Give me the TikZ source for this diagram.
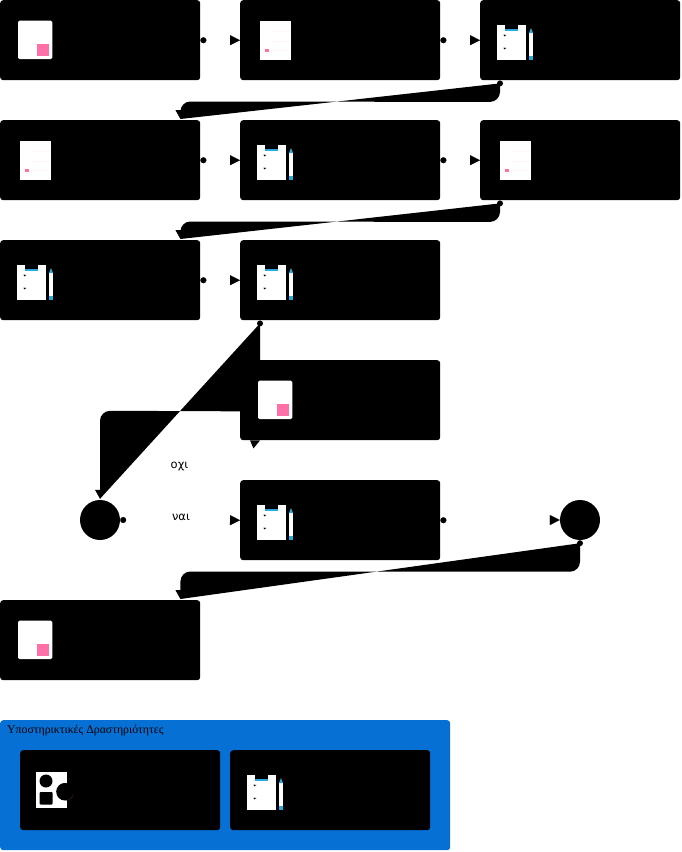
\documentclass[tikz,border=0pt]{standalone}
\usepackage{fontspec}
\setmainfont{Liberation Serif}
\newfontfamily\lblfont{DejaVu Sans}
\usetikzlibrary{arrows.meta,calc}
\definecolor{pinkfill}{HTML}{FF6FA8}
\definecolor{cyanfill}{HTML}{29A9DF}
\definecolor{poolblue}{HTML}{0670D5}
\tikzset{
  x=1pt,y=-1pt,
  taskbox/.style={fill=black,draw=none,rounded corners=3pt,minimum width=200pt,minimum height=80pt,inner sep=0pt,anchor=north west},
  gateway/.style={circle,fill=black,draw=none,minimum size=40pt,inner sep=0pt},
  flow/.style={draw=white,line width=0.1pt,{Circle[black,length=6pt,width=6pt]}-{Triangle[black,length=10pt,width=10pt]}},
  backflow/.style={fill=black,draw=none},
  tip/.style={fill=black,draw=none},
  edgelabel/.style={font=\lblfont\fontsize{11.5}{13}\selectfont,inner sep=0pt},
  docicon/.pic={
    \fill[white,rounded corners=1.5pt] (18,20.7) rectangle (52.4,59);
    \fill[pinkfill] (37.4,44) rectangle (49,56);
  },
  smalldoc/.pic={
    \fill[white] (19.5,20.5) rectangle (50.5,59.5);
    \draw[pinkfill!7,line width=0.5pt] (33,31) -- (50,31) (33,41) -- (50,41) (33,50) -- (50,50);
    \fill[pinkfill] (24.5,48.8) rectangle (29,52.4);
  },
  clipicon/.pic={
    \fill[white] (16.7,25) rectangle (46,59.5);
    \fill[black] (24.5,25) rectangle (38,30.5);
    \fill[cyanfill] (24.5,29.3) rectangle (38,30.7);
    \fill[black] (23.6,34.6) -- (26.4,35) -- (24.2,36.4) -- cycle;
    \fill[black] (23.6,47.6) -- (26.4,48) -- (24.2,49.4) -- cycle;
    \fill[white] (49,33) rectangle (53,56);
    \fill[cyanfill] (49,56) rectangle (53,59.5);
    \fill[cyanfill] (51,28) -- (53,33) -- (49,33) -- cycle;
  },
}
\begin{document}
\begin{tikzpicture}
\useasboundingbox (0,0) rectangle (682,852);
% pool
\node[fill=poolblue,draw=none,rounded corners=3pt,minimum width=450pt,minimum height=130pt,inner sep=0pt,anchor=north west] (pool) at (0,720) {};
\node[anchor=west,inner sep=0pt,font=\fontsize{11.8}{14}\selectfont,text=black] (poollabel) at (7,730.5) {Υποστηρικτικές Δραστηριότητες};
% tasks
\node[taskbox] (a1) at (0,0) {};
\node[taskbox] (a2) at (240,0) {};
\node[taskbox] (a3) at (480,0) {};
\node[taskbox] (b1) at (0,120) {};
\node[taskbox] (b2) at (240,120) {};
\node[taskbox] (b3) at (480,120) {};
\node[taskbox] (c1) at (0,240) {};
\node[taskbox] (c2) at (240,240) {};
\node[taskbox] (d2) at (240,360) {};
\node[taskbox] (e2) at (240,480) {};
\node[taskbox] (f1) at (0,600) {};
\node[taskbox] (s1) at (20,750) {};
\node[taskbox] (s2) at (230,750) {};
\node[gateway] (gw1) at (100,520) {};
\node[gateway] (gw2) at (580,520) {};
% forward flows
\draw[flow] (a1.east) -- (a2.west);
\draw[flow] (a2.east) -- (a3.west);
\draw[flow] (b1.east) -- (b2.west);
\draw[flow] (b2.east) -- (b3.west);
\draw[flow] (c1.east) -- (c2.west);
\draw[flow] (gw1.east) -- (e2.west);
\draw[flow] (e2.east) -- (gw2.west);
% return flows
\coordinate (r1s) at ($(a3.south west)+(20,3)$);
\coordinate (r1e) at ($(b1.north east)+(-20,-1)$);
\path[backflow] (r1s) -- ($(a3.south west)+(20,11.5)$) .. controls ($(a3.south west)+(20,17)$) and ($(a3.south west)+(15.5,21.5)$) .. ($(a3.south west)+(10,21.5)$)
  -- ($(b1.north east)+(-10,-18.5)$) .. controls ($(b1.north east)+(-15.5,-18.5)$) and ($(b1.north east)+(-20,-14)$) .. ($(b1.north east)+(-20,-8.5)$) -- (r1e) -- cycle;
\fill[tip] ($(b1.north east)+(-25,-10)$) -- (r1e) -- ($(b1.north east)+(-15,-10)$) -- cycle;
\fill[black] (r1s) circle[radius=3];

\coordinate (r2s) at ($(b3.south west)+(20,3)$);
\coordinate (r2e) at ($(c1.north east)+(-20,-1)$);
\path[backflow] (r2s) -- ($(b3.south west)+(20,11.5)$) .. controls ($(b3.south west)+(20,17)$) and ($(b3.south west)+(15.5,21.5)$) .. ($(b3.south west)+(10,21.5)$)
  -- ($(c1.north east)+(-10,-18.5)$) .. controls ($(c1.north east)+(-15.5,-18.5)$) and ($(c1.north east)+(-20,-14)$) .. ($(c1.north east)+(-20,-8.5)$) -- (r2e) -- cycle;
\fill[tip] ($(c1.north east)+(-25,-10)$) -- (r2e) -- ($(c1.north east)+(-15,-10)$) -- cycle;
\fill[black] (r2s) circle[radius=3];

\coordinate (r3s) at ($(c2.south west)+(20,3)$);
\coordinate (r3e) at ($(gw1.north)+(0,-1)$);
\path[backflow] (r3s) -- ($(c2.south west)+(20,91)$)
  -- ($(gw1.north)+(10,-89)$) .. controls ($(gw1.north)+(4.5,-89)$) and ($(gw1.north)+(0,-84.5)$) .. ($(gw1.north)+(0,-79)$) -- (r3e) -- cycle;
\fill[tip] ($(gw1.north)+(-5,-10)$) -- (r3e) -- ($(gw1.north)+(5,-10)$) -- cycle;
\fill[tip] ($(d2.south west)+(10,0)$) -- ($(d2.south west)+(13.5,8)$) -- ($(d2.south west)+(20,0)$) -- cycle;
\fill[black] (r3s) circle[radius=3];

\coordinate (r4s) at ($(gw2.south)+(0,3)$);
\coordinate (r4e) at ($(f1.north east)+(-20,-1)$);
\path[backflow] (r4s) -- ($(gw2.south)+(0,21.5)$) .. controls ($(gw2.south)+(0,27)$) and ($(gw2.south)+(-4.5,31.5)$) .. ($(gw2.south)+(-10,31.5)$)
  -- ($(f1.north east)+(-10,-28.5)$) .. controls ($(f1.north east)+(-15.5,-28.5)$) and ($(f1.north east)+(-20,-24)$) .. ($(f1.north east)+(-20,-18.5)$) -- (r4e) -- cycle;
\fill[tip] ($(f1.north east)+(-25,-10)$) -- (r4e) -- ($(f1.north east)+(-15,-10)$) -- cycle;
\fill[black] (r4s) circle[radius=3];
% icons
\pic at (0,0) {docicon};
\pic at (240,0) {smalldoc};
\pic at (480,0) {clipicon};
\pic at (0,120) {smalldoc};
\pic at (240,120) {clipicon};
\pic at (480,120) {smalldoc};
\pic at (0,240) {clipicon};
\pic at (240,240) {clipicon};
\pic at (240,360) {docicon};
\pic at (240,480) {clipicon};
\pic at (0,600) {docicon};
\pic at (230,750) {clipicon};
% shapes icon
\fill[white] (35.7,771.7) rectangle (66.7,808);
\fill[black] (46,781) circle[radius=6.5];
\fill[black,rounded corners=1pt] (39.7,792) rectangle (52.7,804.5);
\fill[black] (65,791.7) circle[radius=8.8];
\draw[pinkfill!35!black,line width=0.25pt] (66,800.5) arc[start angle=84,end angle=15,radius=8.8];
% labels
\node[edgelabel] (no) at (179.5,466) {οχι};
\node[edgelabel] (yes) at (181,517) {ναι};
\end{tikzpicture}
\end{document}
